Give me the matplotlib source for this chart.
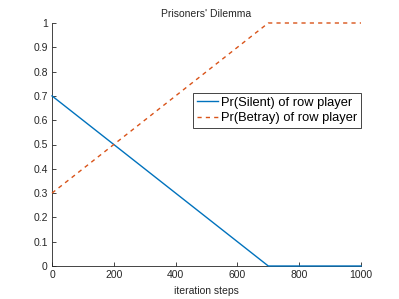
import matplotlib
matplotlib.use("Agg")
import matplotlib.pyplot as plt

# iteration steps and probabilities of row player
steps = [0, 700, 1000]
pr_silent = [0.7, 0.0, 0.0]
pr_betray = [0.3, 1.0, 1.0]
xticks = [0, 200, 400, 600, 800, 1000]
yticks = [0, 0.1, 0.2, 0.3, 0.4, 0.5, 0.6, 0.7, 0.8, 0.9, 1]

plt.rcParams['font.family'] = ['Liberation Sans', 'DejaVu Sans']

fig = plt.figure(figsize=(3.99, 2.99), dpi=100)
ax = fig.add_axes([52 / 399, 1 - 266 / 299, (361 - 52) / 399, (266 - 23) / 299])

ax.plot(steps, pr_silent, color='#0072BD', lw=1.0, clip_on=False, zorder=3,
        label='Pr(Silent) of row player')
ax.plot(steps, pr_betray, color='#D95319', lw=1.0, ls=(0, (3, 3)), clip_on=False, zorder=3,
        label='Pr(Betray) of row player')

ax.set_xlim(0, 1000)
ax.set_ylim(0, 1)
ax.set_xticks(xticks)
ax.set_yticks(yticks)
ax.set_yticklabels([f"{v:g}" for v in yticks])
ax.tick_params(direction='in', length=3, width=0.6, labelsize=7.5, colors='#262626', pad=3)
for side in ['top', 'right']:
    ax.spines[side].set_visible(False)
for side in ['left', 'bottom']:
    ax.spines[side].set_color('#262626')
    ax.spines[side].set_linewidth(0.6)

ax.set_title("Prisoners' Dilemma", fontsize=7.5, color='#262626', pad=4)
ax.set_xlabel("iteration steps", fontsize=7.5, color='#262626', labelpad=4)

leg = ax.legend(loc='upper right', bbox_to_anchor=(1.0, 0.712), fontsize=9.3,
                fancybox=False, framealpha=1, edgecolor='#262626',
                handlelength=1.6, handletextpad=0.25, borderpad=0.3,
                labelspacing=0.25, borderaxespad=0)
leg.get_frame().set_linewidth(0.6)

fig.savefig("out.png", dpi=100)
